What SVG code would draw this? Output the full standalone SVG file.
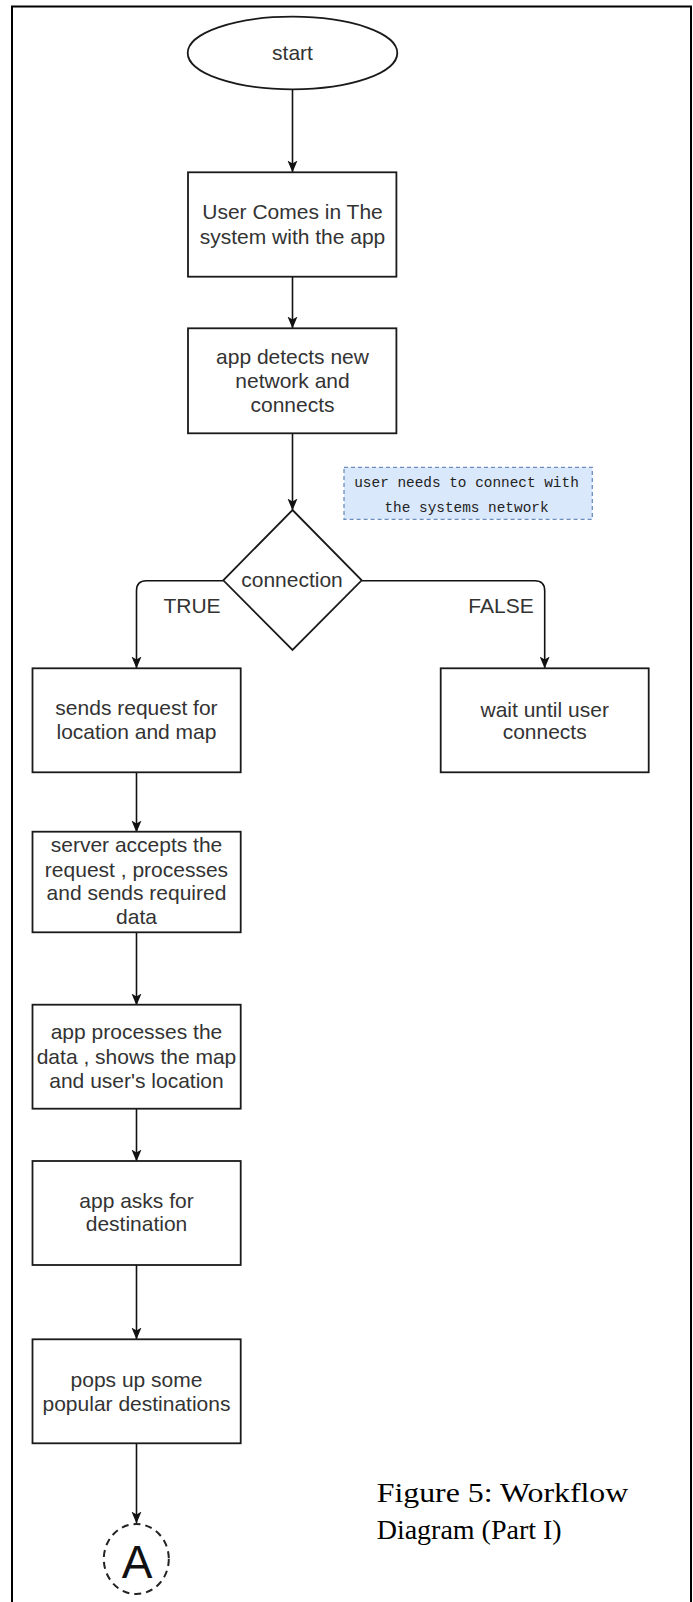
<svg xmlns="http://www.w3.org/2000/svg" width="693" height="1602" viewBox="0 0 693 1602">
<style>
.node{fill:#ffffff;stroke:#1a1a1a;stroke-width:1.8}
.lbl{font-family:"Liberation Sans",Arial,sans-serif;font-size:21px;fill:#333333;text-anchor:middle}
.edge{fill:none;stroke:#111111;stroke-width:1.6}
.mono{font-family:"Liberation Mono","Courier New",monospace;font-size:14.4px;fill:#222222;text-anchor:middle}
.cap{font-family:"Liberation Serif","Times New Roman",serif;font-size:27px;fill:#000000}
</style>
<defs>
<marker id="arr" viewBox="0 0 12 12" refX="11.5" refY="6" markerWidth="12" markerHeight="12" markerUnits="userSpaceOnUse" orient="auto">
<path d="M0,1 L12,6 L0,11 L3,6 Z" fill="#111111"/>
</marker>
</defs>
<rect x="0" y="0" width="693" height="1602" fill="#ffffff"/>
<path d="M12,1610 L12,6.5 L691,6.5 L691,1610" fill="none" stroke="#000000" stroke-width="2"/>

<g id="connectors">
<path class="edge" d="M292.5,89.5 L292.5,172" marker-end="url(#arr)"/>
<path class="edge" d="M292.5,277 L292.5,328" marker-end="url(#arr)"/>
<path class="edge" d="M292.5,433 L292.5,510" marker-end="url(#arr)"/>
<path class="edge" d="M223.3,580.7 L146.5,580.7 Q136.5,580.7 136.5,590.7 L136.5,668" marker-end="url(#arr)"/>
<path class="edge" d="M361.7,580.7 L534.7,580.7 Q544.7,580.7 544.7,590.7 L544.7,668" marker-end="url(#arr)"/>
<path class="edge" d="M136.5,772 L136.5,832" marker-end="url(#arr)"/>
<path class="edge" d="M136.5,932 L136.5,1005" marker-end="url(#arr)"/>
<path class="edge" d="M136.5,1109 L136.5,1161" marker-end="url(#arr)"/>
<path class="edge" d="M136.5,1265 L136.5,1339" marker-end="url(#arr)"/>
<path class="edge" d="M136.5,1443 L136.5,1523" marker-end="url(#arr)"/>
<text class="lbl" x="192" y="612.5">TRUE</text>
<text class="lbl" x="501" y="612.5">FALSE</text>
</g>

<g id="start">
<ellipse class="node" cx="292.5" cy="53" rx="104.8" ry="36.3"/>
<text class="lbl" x="292.5" y="59.5">start</text>
</g>

<g id="user-comes">
<rect class="node" x="188" y="172.3" width="208.4" height="104.4"/>
<text class="lbl" x="292.5" y="219.2">User Comes in The</text>
<text class="lbl" x="292.5" y="243.5">system with the app</text>
</g>

<g id="detects">
<rect class="node" x="188" y="328.3" width="208.4" height="105"/>
<text class="lbl" x="292.5" y="363.5">app detects new</text>
<text class="lbl" x="292.5" y="387.5">network and</text>
<text class="lbl" x="292.5" y="411.5">connects</text>
</g>

<g id="note">
<rect x="344" y="467.3" width="248.3" height="52" fill="#dae8fc" stroke="#6c8ebf" stroke-width="1.3" stroke-dasharray="4,3"/>
<text class="mono" x="466.5" y="486.5">user needs to connect with</text>
<text class="mono" x="466.5" y="512">the systems network</text>
</g>

<g id="connection">
<path class="node" d="M292.5,510 L361.7,580.3 L292.5,650 L223.3,580.3 Z"/>
<text class="lbl" x="292" y="586.8">connection</text>
</g>

<g id="sends-request">
<rect class="node" x="32.5" y="668.3" width="208.2" height="104"/>
<text class="lbl" x="136.5" y="714.8">sends request for</text>
<text class="lbl" x="136.5" y="738.5">location and map</text>
</g>

<g id="wait">
<rect class="node" x="440.7" y="668.3" width="208" height="104"/>
<text class="lbl" x="544.7" y="716.5">wait until user</text>
<text class="lbl" x="544.7" y="739.2">connects</text>
</g>

<g id="server">
<rect class="node" x="32.5" y="831.7" width="208.2" height="100.6"/>
<text class="lbl" x="136.5" y="851.8">server accepts the</text>
<text class="lbl" x="136.5" y="876.8">request , processes</text>
<text class="lbl" x="136.5" y="899.8">and sends required</text>
<text class="lbl" x="136.5" y="924.2">data</text>
</g>

<g id="app-processes">
<rect class="node" x="32.5" y="1004.7" width="208.2" height="104"/>
<text class="lbl" x="136.5" y="1039.2">app processes the</text>
<text class="lbl" x="136.5" y="1063.5">data , shows the map</text>
<text class="lbl" x="136.5" y="1087.5">and user's location</text>
</g>

<g id="asks-destination">
<rect class="node" x="32.5" y="1161" width="208.2" height="104"/>
<text class="lbl" x="136.5" y="1207.5">app asks for</text>
<text class="lbl" x="136.5" y="1230.8">destination</text>
</g>

<g id="popular">
<rect class="node" x="32.5" y="1339.3" width="208.2" height="104"/>
<text class="lbl" x="136.5" y="1386.8">pops up some</text>
<text class="lbl" x="136.5" y="1410.8">popular destinations</text>
</g>

<g id="connector-A">
<ellipse cx="136.3" cy="1559" rx="32.5" ry="35" fill="#ffffff" stroke="#222222" stroke-width="2" stroke-dasharray="7,5"/>
<text x="137" y="1578" font-family="Liberation Sans,Arial,sans-serif" font-size="46" fill="#111111" text-anchor="middle">A</text>
</g>

<g id="caption">
<text class="cap" x="376.7" y="1501.7" textLength="251.6" lengthAdjust="spacingAndGlyphs">Figure 5: Workflow</text>
<text class="cap" x="376.7" y="1539.3" textLength="185" lengthAdjust="spacingAndGlyphs">Diagram (Part I)</text>
</g>
</svg>
